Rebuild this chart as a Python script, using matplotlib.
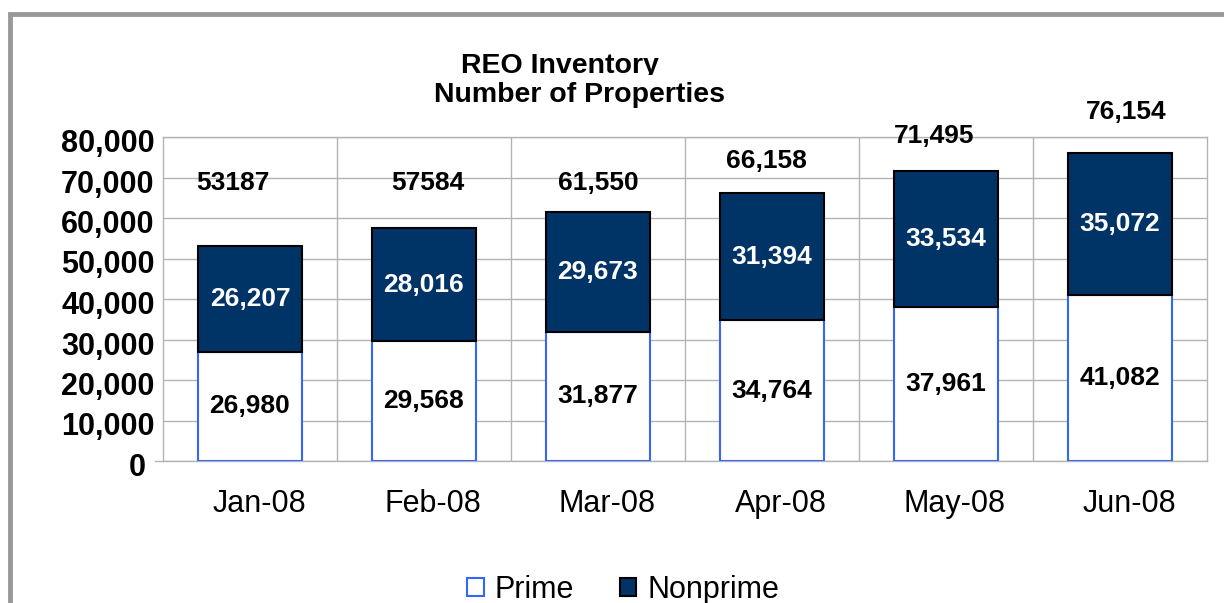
import matplotlib
matplotlib.use("Agg")
import matplotlib.pyplot as plt
from matplotlib.patches import Patch, Rectangle
from matplotlib.transforms import Bbox, TransformedBbox, ScaledTranslation

plt.rcParams['font.family'] = ['Liberation Sans', 'DejaVu Sans']

# data
months = ['Jan-08', 'Feb-08', 'Mar-08', 'Apr-08', 'May-08', 'Jun-08']
prime = [26980, 29568, 31877, 34764, 37961, 41082]
nonprime = [26207, 28016, 29673, 31394, 33534, 35072]
total_labels = ['53187', '57584', '61,550', '66,158', '71,495', '76,154']
y_ticks = [0, 10000, 20000, 30000, 40000, 50000, 60000, 70000, 80000]
y_tick_labels = ['0 ', '10,000', '20,000', '30,000', '40,000', '50,000',
                 '60,000', '70,000', '80,000']

navy = '#003366'
blue_edge = '#3366ff'
grid_col = '#b3b3b3'

fig = plt.figure(figsize=(12.24, 6.03), dpi=100)
ax = fig.add_axes([163 / 1224, 1 - 461 / 603, 1044 / 1224, 324 / 603])

x = list(range(len(months)))
ax.bar(x, prime, width=0.6, color='white', edgecolor=blue_edge, linewidth=1.5, zorder=3)
ax.bar(x, nonprime, width=0.6, bottom=prime, color=navy, edgecolor='black',
       linewidth=1.5, zorder=3)

# values inside the bars
for i in x:
    ax.text(i, prime[i] / 2, f'{prime[i]:,}', ha='center', va='center',
            fontsize=19, fontweight='bold', color='black', zorder=4)
    ax.text(i, prime[i] + nonprime[i] / 2, f'{nonprime[i]:,}', ha='center',
            va='center', fontsize=19, fontweight='bold', color='white', zorder=4)

# total text boxes (placed by hand in the original)
tot_y = [68600, 68600, 68600, 74100, 80250, 86050]
tot_dx = [-0.10, 0.02, 0.0, -0.03, -0.07, 0.035]
for i in x:
    ax.text(i + tot_dx[i], tot_y[i], total_labels[i], ha='center', va='center',
            fontsize=19, fontweight='bold', color='black', zorder=5, clip_on=False)

ax.set_xlim(-0.5, 5.5)
ax.set_ylim(0, 80000)
ax.set_yticks(y_ticks)
ax.set_yticklabels(y_tick_labels, fontsize=22, fontweight='bold')
ax.set_xticks(x)
ax.set_xticklabels(months, fontsize=22)
ax.set_xticks([i + 0.5 for i in x[:-1]], minor=True)
ax.tick_params(axis='y', length=0, pad=6)
ax.tick_params(axis='x', which='both', length=0, pad=20)
for lab in ax.get_xticklabels():
    lab.set_transform(lab.get_transform() + ScaledTranslation(0.09, 0, fig.dpi_scale_trans))
for lab in ax.get_yticklabels():
    lab.set_transform(lab.get_transform() + ScaledTranslation(0, -0.035, fig.dpi_scale_trans))
ax.grid(axis='y', which='major', color=grid_col, linewidth=1, zorder=0)
ax.grid(axis='x', which='minor', color=grid_col, linewidth=1, zorder=0)
ax.set_axisbelow(True)
for s in ax.spines.values():
    s.set_color(grid_col)
    s.set_linewidth(1)
ax.plot([-0.008, 0], [0, 0], transform=ax.transAxes, color=grid_col,
        linewidth=1, clip_on=False)

# title, first line cut off at the bottom like the original
t1 = fig.text(560 / 1224, 1 - 73 / 603, 'REO Inventory', ha='center', va='baseline',
              fontsize=20.5, fontweight='bold')
t1.set_clip_box(TransformedBbox(Bbox.from_extents(0, 1 - 74.5 / 603, 1, 1), fig.transFigure))
t1.set_clip_on(True)
fig.text(580 / 1224, 1 - 102 / 603, 'Number of Properties', ha='center', va='baseline',
         fontsize=20.5, fontweight='bold')

# outer frame
fig.patches.append(Rectangle((10 / 1224, -0.1), 1.2, 1 - 14 / 603 + 0.1,
                             transform=fig.transFigure, fill=False,
                             edgecolor='#999999', linewidth=3.5, clip_on=False))

# legend
handles = [Patch(facecolor='white', edgecolor=blue_edge, linewidth=1.5, label='Prime'),
           Patch(facecolor=navy, edgecolor='black', linewidth=1.5, label='Nonprime')]
fig.legend(handles=handles, loc='center', bbox_to_anchor=(623 / 1224, 1 - 590 / 603),
           ncol=2, frameon=False, fontsize=22, handlelength=0.55, handleheight=0.55,
           handletextpad=0.35, columnspacing=1.5, borderpad=0)

fig.savefig('out.png', dpi=100)
